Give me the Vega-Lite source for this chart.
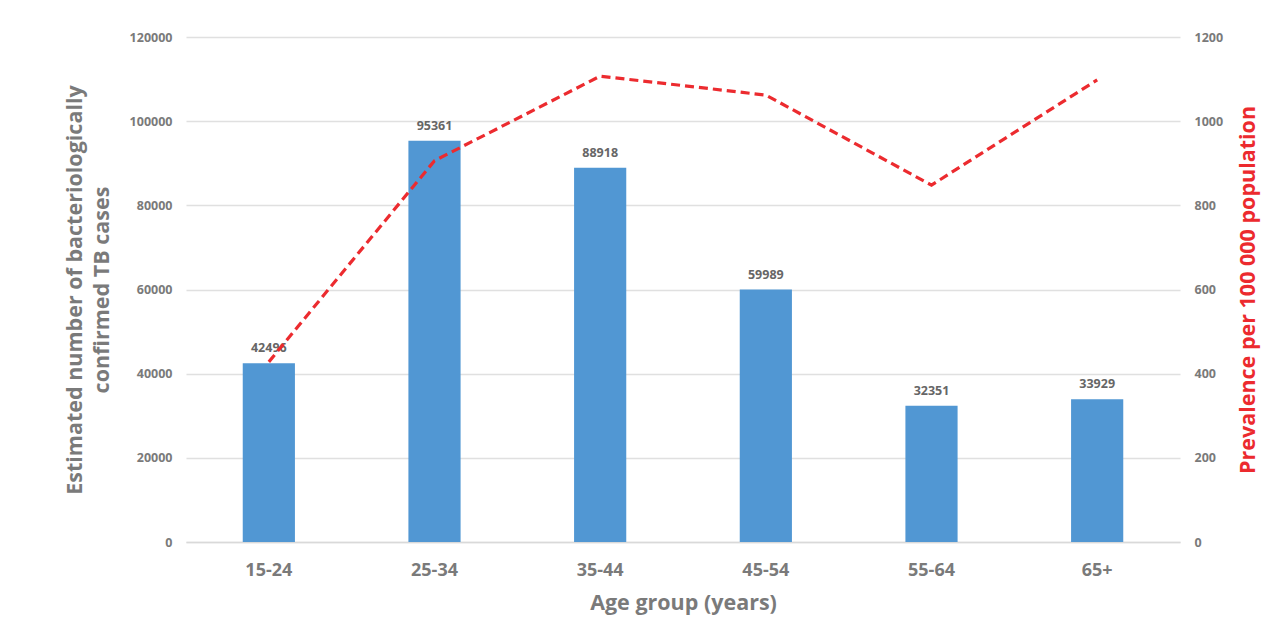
{
  "$schema": "https://vega.github.io/schema/vega-lite/v6.json",
  "width": 994,
  "height": 505,
  "autosize": {"type": "none"},
  "padding": {"left": 186, "top": 37, "right": 105, "bottom": 85},
  "background": "#ffffff",
  "data": {
    "values": [
      {"age": "15-24", "cases": 42496, "prevalence": 428},
      {"age": "25-34", "cases": 95361, "prevalence": 906},
      {"age": "35-44", "cases": 88918, "prevalence": 1107},
      {"age": "45-54", "cases": 59989, "prevalence": 1062},
      {"age": "55-64", "cases": 32351, "prevalence": 848},
      {"age": "65+", "cases": 33929, "prevalence": 1098}
    ]
  },
  "encoding": {
    "x": {
      "field": "age",
      "type": "nominal",
      "sort": null,
      "scale": {"paddingInner": 0.685, "paddingOuter": 0.3425},
      "axis": {
        "title": "Age group (years)",
        "labelAngle": 0,
        "labelFont": "Open Sans",
        "labelFontSize": 18,
        "labelFontWeight": "bold",
        "labelColor": "#7a7a7a",
        "labelPadding": 19,
        "ticks": false,
        "domainColor": "#d9d9d9",
        "domainWidth": 1.5,
        "titleFont": "Open Sans",
        "titleFontSize": 21.5,
        "titleFontWeight": "bold",
        "titleColor": "#7a7a7a",
        "titlePadding": 13
      }
    }
  },
  "layer": [
    {
      "mark": {"type": "bar", "color": "#5197D3"},
      "encoding": {
        "y": {
          "field": "cases",
          "type": "quantitative",
          "scale": {"domain": [0, 120000], "nice": false},
          "axis": {
            "title": ["Estimated number of bacteriologically", "confirmed TB cases"],
            "values": [0, 20000, 40000, 60000, 80000, 100000, 120000],
            "format": "d",
            "labelFont": "Open Sans",
            "labelFontSize": 12.5,
            "labelFontWeight": "bold",
            "labelColor": "#7a7a7a",
            "labelPadding": 14,
            "ticks": false,
            "domain": false,
            "grid": true,
            "gridColor": "#e0e0e0",
            "gridWidth": 1.5,
            "titleFont": "Open Sans",
            "titleFontSize": 21.5,
            "titleFontWeight": "bold",
            "titleColor": "#7a7a7a",
            "titlePadding": 16,
            "titleLineHeight": 27
          }
        }
      }
    },
    {
      "mark": {
        "type": "text",
        "baseline": "bottom",
        "dy": -8,
        "font": "Open Sans",
        "fontSize": 12.5,
        "fontWeight": "bold",
        "color": "#666666"
      },
      "encoding": {
        "y": {"field": "cases", "type": "quantitative", "scale": {"domain": [0, 120000], "nice": false}, "axis": null},
        "text": {"field": "cases", "type": "quantitative", "format": "d"}
      }
    },
    {
      "mark": {
        "type": "line",
        "color": "#EC2B2F",
        "strokeWidth": 3.2,
        "strokeDash": [9, 5]
      },
      "encoding": {
        "y": {
          "field": "prevalence",
          "type": "quantitative",
          "scale": {"domain": [0, 1200], "nice": false},
          "axis": {
            "orient": "right",
            "title": "Prevalence per 100 000 population",
            "values": [0, 200, 400, 600, 800, 1000, 1200],
            "format": "d",
            "labelFont": "Open Sans",
            "labelFontSize": 12.5,
            "labelFontWeight": "bold",
            "labelColor": "#7a7a7a",
            "labelPadding": 14,
            "ticks": false,
            "domain": false,
            "grid": false,
            "titleFont": "Open Sans",
            "titleFontSize": 21.5,
            "titleFontWeight": "bold",
            "titleColor": "#EC2A2E",
            "titleAngle": 270,
            "titleBaseline": "top",
            "titlePadding": 15
          }
        }
      }
    }
  ],
  "resolve": {"scale": {"y": "independent"}},
  "config": {"view": {"stroke": null}}
}
